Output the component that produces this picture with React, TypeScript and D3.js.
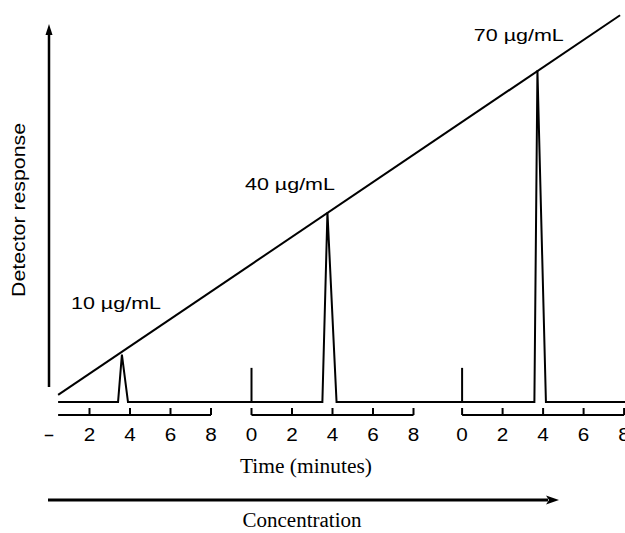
import React from "react";
import * as d3 from "d3";

// ---- data ----
const RUN_OFFSETS = [0, 10, 20.4]; // injection time of each run (min, on the continuous record)
const RUN_AXIS_START = [0.45, 0, 0]; // visible start of each run's time axis (min)
const TICK_VALUES = [0, 2, 4, 6, 8];
const RUN_TICKS = [[2, 4, 6, 8], [0, 2, 4, 6, 8], [0, 2, 4, 6, 8]];
const CONCENTRATIONS = ["10 µg/mL", "40 µg/mL", "70 µg/mL"];
const PEAK_RESPONSE = [10, 40, 70];
// detector trace: [time (min), response]
const TRACE: [number, number][] = [
  [0.45, 0], [3.41, 0], [3.6, 10], [3.9, 0],
  [13.5, 0], [13.75, 40], [14.2, 0],
  [23.97, 0], [24.12, 70], [24.54, 0], [28.8, 0],
];
const INJECTION_MARK = 7.2; // response height of injection markers
const CALIBRATION: [number, number][] = [[0.45, 1.5], [28.2, 81.6]];
const LABEL_ANCHOR: [number, number][] = [[3.31, 19.6], [11.9, 44.7], [23.2, 76.2]];

export default function App() {
  const W = 625, H = 533;
  const x = d3.scaleLinear().domain([0, 28.5]).range([49, 49 + 28.5 * 20.25]);
  const y = d3.scaleLinear().domain([0, 80]).range([402, 402 - 80 * 4.74]);
  const line = d3.line<[number, number]>().x(d => x(d[0])).y(d => y(d[1]));
  const axisY = 415;
  const sans = "'Liberation Sans', Arial, sans-serif";
  const serif = "'Liberation Serif', 'Times New Roman', serif";

  return (
    <svg width={W} height={H} style={{ position: "absolute", left: 0, top: 0, background: "#fff" }}>
      <rect width={W} height={H} fill="#fff" />
      {/* Y axis arrow */}
      <line x1={49} y1={387} x2={49} y2={33} stroke="#000" strokeWidth={2.5} />
      <path d="M49,24 L45.5,35 L52.5,35 Z" fill="#000" />
      <text transform="translate(24.5,210) rotate(-90)" textAnchor="middle" fontFamily={sans}
        fontSize={18} textLength={174} lengthAdjust="spacingAndGlyphs">Detector response</text>

      {/* calibration line */}
      <path d={line(CALIBRATION) || ""} fill="none" stroke="#000" strokeWidth={2} />

      {/* trace */}
      <path d={line(TRACE) || ""} fill="none" stroke="#000" strokeWidth={2} strokeLinejoin="miter" />
      {RUN_OFFSETS.slice(1).map((o, i) => (
        <line key={i} x1={x(o)} x2={x(o)} y1={y(0)} y2={y(INJECTION_MARK)} stroke="#000" strokeWidth={2} />
      ))}

      {/* concentration labels */}
      {CONCENTRATIONS.map((c, i) => (
        <text key={c} x={x(LABEL_ANCHOR[i][0])} y={y(LABEL_ANCHOR[i][1])} textAnchor="middle"
          fontFamily={sans} fontSize={17} textLength={90} lengthAdjust="spacingAndGlyphs">{c}</text>
      ))}

      {/* time axes */}
      {RUN_OFFSETS.map((o, r) => {
        const xs = d3.scaleLinear().domain([0, 8]).range([x(o), x(o + 8)]);
        return (
          <g key={r}>
            <line x1={xs(RUN_AXIS_START[r])} x2={xs(8)} y1={axisY} y2={axisY} stroke="#000" strokeWidth={2} />
            {RUN_TICKS[r].map(t => (
              <line key={t} x1={xs(t)} x2={xs(t)} y1={axisY} y2={axisY - 7} stroke="#000" strokeWidth={2} />
            ))}
            {TICK_VALUES.map(t => (
              <text key={t} x={xs(t)} y={441} textAnchor="middle" fontFamily={sans} fontSize={18}
                textLength={11.5} lengthAdjust="spacingAndGlyphs">
                {r === 0 && t === 0 ? "-" : String(t)}
              </text>
            ))}
          </g>
        );
      })}
      <text x={306} y={473} textAnchor="middle" fontFamily={serif} fontSize={21}
        textLength={132} lengthAdjust="spacingAndGlyphs">Time (minutes)</text>

      {/* concentration arrow */}
      <line x1={48} y1={500} x2={548} y2={500} stroke="#000" strokeWidth={3} />
      <path d="M559,500 L546,495.5 L549,500 L546,504.5 Z" fill="#000" />
      <text x={302} y={527} textAnchor="middle" fontFamily={serif} fontSize={20}
        textLength={119} lengthAdjust="spacingAndGlyphs">Concentration</text>
    </svg>
  );
}
